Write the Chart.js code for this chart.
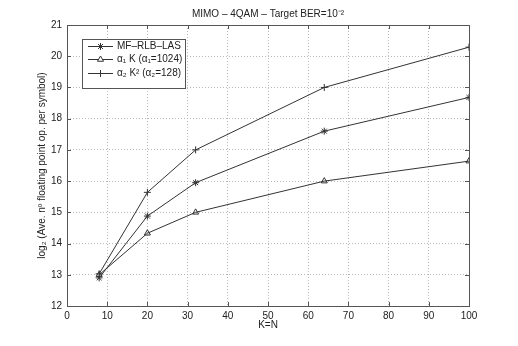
<!DOCTYPE html>
<html>
<head>
<meta charset="utf-8">
<script src="https://cdn.jsdelivr.net/npm/chart.js@4/dist/chart.umd.min.js"></script>
<style>
  html, body { margin: 0; padding: 0; background: #fff; }
  #wrap { width: 518px; height: 346px; }
</style>
</head>
<body>
<div id="wrap"><canvas id="c" width="518" height="346"></canvas></div>
<script>
// K=N values
const kValues = [8, 20, 32, 64, 100];
// log2 of average floating point operations per symbol
const lasValues = [12.9, 14.88, 15.95, 17.6, 18.68];
const alpha1Values = [13.0, 14.33, 15.0, 16.0, 16.64];
const alpha2Values = [13.03, 15.64, 17.0, 19.0, 20.29];
const seriesLabels = ["MF\u2013RLB\u2013LAS", "\u03b1\u2081 K (\u03b1\u2081=1024)", "\u03b1\u2082 K\u00b2 (\u03b1\u2082=128)"];
const xTicks = [0, 10, 20, 30, 40, 50, 60, 70, 80, 90, 100];
const yTicks = [12, 13, 14, 15, 16, 17, 18, 19, 20, 21];

const FONT = "Liberation Sans, Arial, sans-serif";
const INK = "#333";

function toPoints(vals) {
    return kValues.map((k, i) => ({ x: k, y: vals[i] }));
}

const markers = ["star", "triangle", "cross"];

// frame, inward ticks, titles and legend (matlab look)
const matlabPlugin = {
    id: "matlab",
    afterDraw(chart) {
        const ctx = chart.ctx;
        const a = chart.chartArea;
        const xs = chart.scales.x, ys = chart.scales.y;
        ctx.save();
        ctx.strokeStyle = "#555";
        ctx.lineWidth = 1;
        ctx.strokeRect(Math.round(a.left) + 0.5, Math.round(a.top) + 0.5,
            Math.round(a.right - a.left), Math.round(a.bottom - a.top));
        ctx.beginPath();
        xTicks.forEach(t => {
            const px = Math.round(xs.getPixelForValue(t)) + 0.5;
            ctx.moveTo(px, a.bottom); ctx.lineTo(px, a.bottom - 4);
            ctx.moveTo(px, a.top); ctx.lineTo(px, a.top + 4);
        });
        yTicks.forEach(t => {
            const py = Math.round(ys.getPixelForValue(t)) + 0.5;
            ctx.moveTo(a.left, py); ctx.lineTo(a.left + 4, py);
            ctx.moveTo(a.right, py); ctx.lineTo(a.right - 4, py);
        });
        ctx.stroke();

        // titles
        ctx.fillStyle = "#222";
        ctx.font = "10px " + FONT;
        ctx.textAlign = "center";
        ctx.textBaseline = "middle";
        const cx = (a.left + a.right) / 2;
        ctx.fillText("MIMO \u2013 4QAM \u2013 Target BER=10\u207b\u00b2", cx, 14);
        ctx.fillText("K=N", cx, 325);
        ctx.save();
        ctx.translate(42, (a.top + a.bottom) / 2);
        ctx.rotate(-Math.PI / 2);
        ctx.fillText("log\u2082 (Ave. n\u00ba floating point op. per symbol)", 0, 0);
        ctx.restore();

        // legend box
        const bx = 82.5, by = 39.5, bw = 103, bh = 49;
        ctx.fillStyle = "#fff";
        ctx.fillRect(bx, by, bw, bh);
        ctx.strokeStyle = "#555";
        ctx.strokeRect(bx, by, bw, bh);
        const rows = [46, 59, 73];
        chart.data.datasets.forEach((ds, i) => {
            const y = rows[i] + 0.5;
            ctx.strokeStyle = INK;
            ctx.lineWidth = 1;
            ctx.beginPath();
            ctx.moveTo(88, y); ctx.lineTo(113, y);
            ctx.stroke();
            ctx.fillStyle = "#fff";
            Chart.helpers.drawPoint(ctx, {
                pointStyle: ds.pointStyle, radius: ds.pointRadius, borderWidth: 1
            }, 100.5, y);
            ctx.fillStyle = "#222";
            ctx.textAlign = "left";
            ctx.fillText(ds.label, 117, rows[i]);
        });
        ctx.restore();
    }
};

new Chart(document.getElementById("c"), {
    type: "scatter",
    data: {
        datasets: [lasValues, alpha1Values, alpha2Values].map((vals, i) => ({
            label: seriesLabels[i],
            data: toPoints(vals),
            showLine: true,
            borderColor: INK,
            backgroundColor: "rgba(0,0,0,0)",
            borderWidth: 1,
            pointStyle: markers[i],
            pointRadius: 3.5,
            pointBorderColor: INK,
            pointBorderWidth: 1
        }))
    },
    options: {
        responsive: false,
        animation: false,
        layout: { padding: { top: 25, right: 49, left: 0, bottom: 0 } },
        plugins: {
            legend: { display: false },
            title: { display: false },
            tooltip: { enabled: false }
        },
        scales: {
            x: {
                type: "linear",
                min: 0, max: 100,
                afterBuildTicks: s => { s.ticks = xTicks.map(v => ({ value: v })); },
                afterFit: s => { s.height = 40; },
                grid: { color: "#b8b8b8", drawTicks: false },
                border: { display: false, dash: [1, 2] },
                ticks: { color: "#222", font: { family: FONT, size: 10 }, padding: 4, maxRotation: 0 }
            },
            y: {
                min: 12, max: 21,
                afterBuildTicks: s => { s.ticks = yTicks.map(v => ({ value: v })); },
                afterFit: s => { s.width = 67; },
                grid: { color: "#b8b8b8", drawTicks: false },
                border: { display: false, dash: [1, 2] },
                ticks: { color: "#222", font: { family: FONT, size: 10 }, padding: 5 }
            }
        }
    },
    plugins: [matlabPlugin]
});
</script>
</body>
</html>
